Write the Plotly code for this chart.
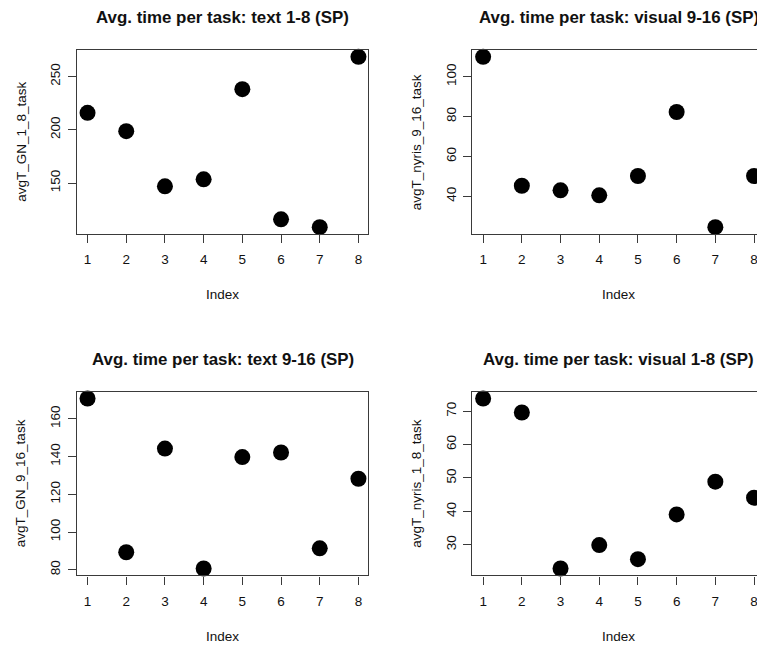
import plotly.graph_objects as go

# ---- data ----
index = [1, 2, 3, 4, 5, 6, 7, 8]
avgT_GN_1_8_task = [215.9, 198.7, 146.9, 153.4, 238.1, 115.9, 108.5, 268.5]
avgT_nyris_9_16_task = [110.0, 45.3, 43.0, 40.5, 50.2, 82.3, 24.5, 50.2]
avgT_GN_9_16_task = [170.7, 89.3, 144.2, 80.7, 139.7, 142.1, 91.4, 128.2]
avgT_nyris_1_8_task = [73.8, 69.6, 22.9, 29.9, 25.7, 39.1, 48.9, 44.1]

titles = ["Avg. time per task: text 1-8 (SP)", "Avg. time per task: visual 9-16 (SP)",
          "Avg. time per task: text 9-16 (SP)", "Avg. time per task: visual 1-8 (SP)"]
ylabels = ["avgT_GN_1_8_task", "avgT_nyris_9_16_task", "avgT_GN_9_16_task", "avgT_nyris_1_8_task"]
yticks = [[150, 200, 250], [40, 60, 80, 100], [80, 100, 120, 140, 160], [30, 40, 50, 60, 70]]
series = [avgT_GN_1_8_task, avgT_nyris_9_16_task, avgT_GN_9_16_task, avgT_nyris_1_8_task]

# ---- layout (pixels) ----
W, H = 757, 646
FONT = "Liberation Sans, Arial, sans-serif"
TXT = "#111111"
LINE = "#3a3a3a"
px_per_unit = 38.7
# plot boxes: (left, right, top, bottom) in pixels
boxes = [(76.7, 368.3, 50, 234), (472.3, None, 50, 234),
         (76.7, 368.3, 391.7, 575.3), (472.3, None, 391.7, 575.3)]

fig = go.Figure()
annotations = []
for i, (vals, box) in enumerate(zip(series, boxes)):
    left, right, top, bottom = box
    clipped = right is None
    if clipped:
        right = W
    n = str(i + 1) if i else ""
    xa, ya = "x" + n, "y" + n
    fig.add_trace(go.Scatter(x=index, y=vals, mode="markers", xaxis=xa, yaxis=ya,
                             marker=dict(size=16, color="black"), cliponaxis=False,
                             showlegend=False, hoverinfo="x+y"))
    x0 = 1 - 0.04 * 7
    x1 = x0 + (right - left) / px_per_unit
    lo, hi = min(vals), max(vals)
    d = hi - lo
    yr = [lo - 0.04 * d, hi + 0.04 * d]
    xkey = "xaxis" + n
    ykey = "yaxis" + n
    fig.layout[xkey] = dict(domain=[left / W, right / W], range=[x0, x1], anchor=ya,
                            tickvals=index, ticks="outside", ticklen=8, tickwidth=1.2,
                            tickcolor=LINE, showline=True, linecolor=LINE, linewidth=1.4,
                            mirror=True, showgrid=False, zeroline=False,
                            tickfont=dict(family=FONT, size=13.5, color=TXT),
                            ticklabelstandoff=5, ticklabeloverflow="allow", fixedrange=True)
    fig.layout[ykey] = dict(domain=[1 - bottom / H, 1 - top / H], range=yr, anchor=xa,
                            tickvals=yticks[i], ticks="outside", ticklen=8, tickwidth=1.2,
                            tickcolor=LINE, showline=True, linecolor=LINE, linewidth=1.4,
                            mirror=(not clipped), showgrid=False, zeroline=False,
                            tickangle=-90,
                            tickfont=dict(family=FONT, size=13.5, color=TXT),
                            ticklabelstandoff=2, fixedrange=True)
    cx = left + 7.56 * px_per_unit / 2
    annotations.append(dict(text="<b>" + titles[i] + "</b>", x=cx / W, y=1 - (top - 32.5) / H,
                            xref="paper", yref="paper", showarrow=False,
                            xanchor="center", yanchor="middle",
                            font=dict(family=FONT, size=16.9, color=TXT)))
    annotations.append(dict(text="Index", x=cx / W, y=1 - (bottom + 61) / H,
                            xref="paper", yref="paper", showarrow=False,
                            xanchor="center", yanchor="middle",
                            font=dict(family=FONT, size=13.5, color=TXT)))
    annotations.append(dict(text=ylabels[i], x=(left - 56) / W, y=1 - ((top + bottom) / 2) / H,
                            xref="paper", yref="paper", showarrow=False, textangle=-90,
                            xanchor="center", yanchor="middle",
                            font=dict(family=FONT, size=13.5, color=TXT)))

fig.update_layout(width=W, height=H, margin=dict(l=0, r=0, t=0, b=0),
                  paper_bgcolor="white", plot_bgcolor="white",
                  annotations=annotations, showlegend=False)
fig.write_html("out.html")
